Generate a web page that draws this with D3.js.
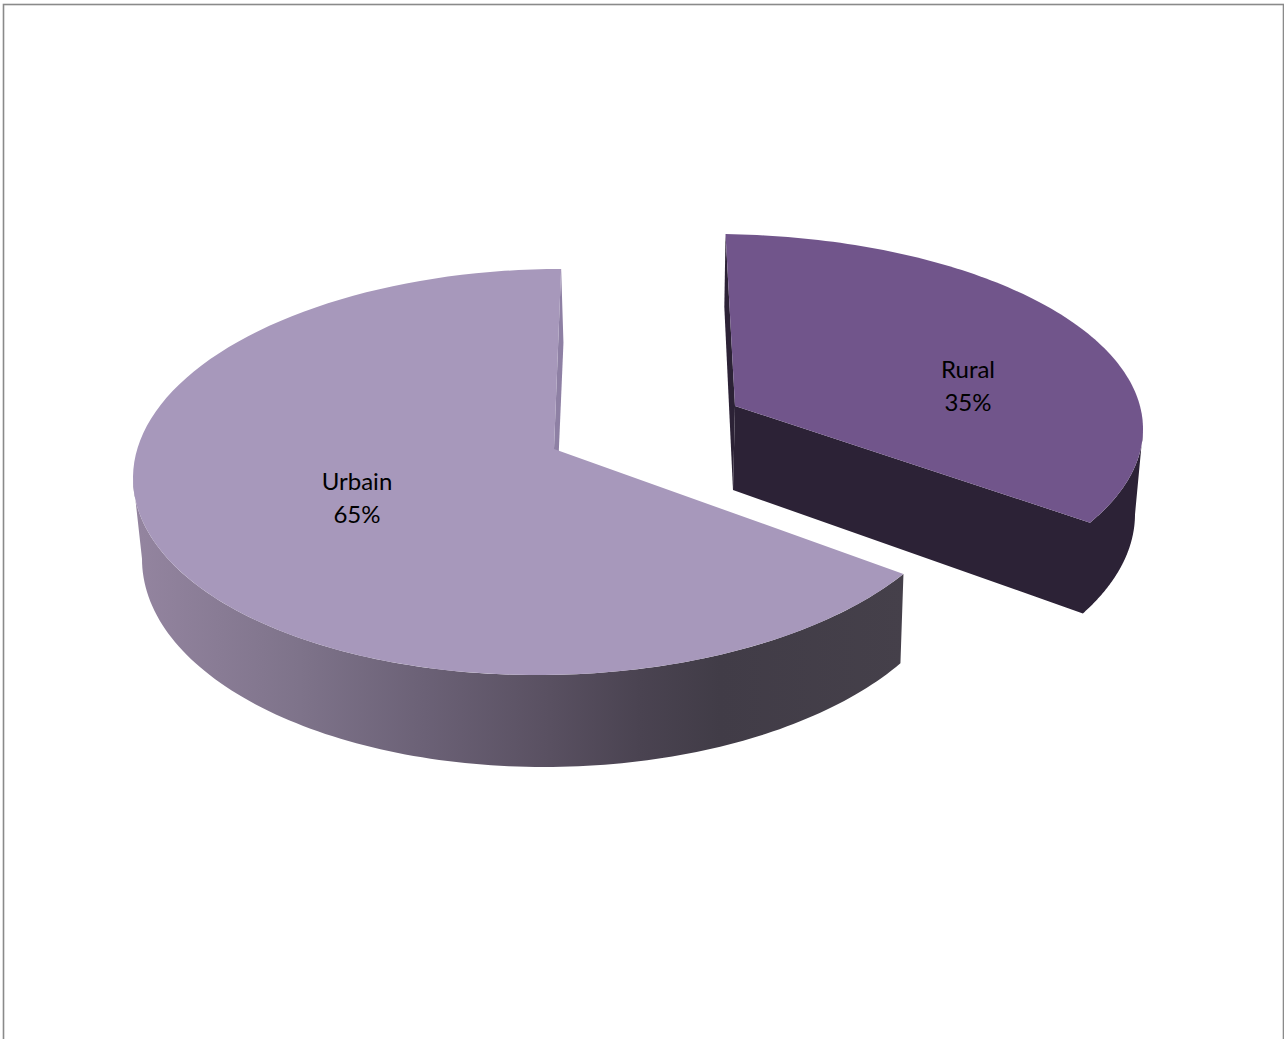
<!DOCTYPE html>
<html>
<head>
<meta charset="utf-8">
<style>
  html, body { margin: 0; padding: 0; background: #fff; overflow: hidden; }
  svg { display: block; }
  text { font-family: Lato, "Open Sans", sans-serif; font-size: 24px; fill: #000; text-anchor: middle; }
</style>
<script src="https://cdn.jsdelivr.net/npm/d3@7/dist/d3.min.js"></script>
</head>
<body>
<svg id="chart" width="1284" height="1039"></svg>
<script>
// Population split
const categories = ["Rural", "Urbain"];
const shares = [35, 65];

const width = 1284, height = 1039;
const rad = Math.PI / 180;

// Top and bottom discs of each slice (ellipses with a slight shear from the viewing
// angle), its hub points, the perspective slide of pie angles along the rim, and the
// pie angle at which the rim turns out of sight
const geometry = {
  Rural: {
    top: { cx: 712, cy: 429, rx: 431, ry: 195, shear: 0 },
    bottom: { cx: 711, cy: 514, rx: 424, ry: 207, shear: 0 },
    hubTop: [735, 406],
    hubBottom: [733, 490],
    offset: 1.8 * rad,
    slide: 5.73 * rad,
    silhouette: 94.5 * rad
  },
  Urbain: {
    top: { cx: 549.5, cy: 472, rx: 416.5, ry: 203, shear: 6 },
    bottom: { cx: 552, cy: 555, rx: 410, ry: 212, shear: 4 },
    hubTop: [554, 449],
    hubBottom: [555, 540],
    offset: 1.6 * rad,
    slide: 3.65 * rad,
    silhouette: 272 * rad
  }
};

const topColor = { Rural: "#71558b", Urbain: "#a798bb" };
const sideColor = { Rural: "#2c2236", Urbain: "url(#urbainSide)" };
const wallColor = { Rural: "#2c2236", Urbain: "#8e80a4" };

// Horizontal shading across the curved side of the large slice
const sideStops = [
  [140, "#93849f"], [300, "#7e738a"], [425, "#6b6176"], [550, "#595061"],
  [640, "#4a4351"], [720, "#413c47"], [905, "#45404a"]
];

const svg = d3.select("#chart");

const gradient = svg.append("defs").append("linearGradient")
  .attr("id", "urbainSide")
  .attr("gradientUnits", "userSpaceOnUse")
  .attr("x1", 140).attr("x2", 905).attr("y1", 0).attr("y2", 0);
const stopOffset = d3.scaleLinear().domain([140, 905]).range([0, 1]);
gradient.selectAll("stop").data(sideStops).join("stop")
  .attr("offset", d => stopOffset(d[0]))
  .attr("stop-color", d => d[1]);

// Page frame, running off the bottom edge
svg.append("rect")
  .attr("x", 3.5).attr("y", 4.5)
  .attr("width", width - 4).attr("height", height + 20)
  .attr("fill", "none").attr("stroke", "#8a8a8a").attr("stroke-width", 1.6);

const pie = d3.pie().value(d => d.value).sort(null);
const slices = pie(categories.map((name, i) => ({ name, value: shares[i] })));

const rimPoint = (g, disc, a) => {
  const t = a + g.offset - g.slide * (1 - Math.cos(a));
  return [
    disc.cx + disc.rx * Math.sin(t),
    disc.cy - disc.ry * Math.cos(t) - disc.shear * Math.sin(t)
  ];
};
const sampleAngles = (from, to) => {
  const n = 120;
  return d3.range(n + 1).map(i => from + (to - from) * i / n);
};
const line = d3.line();
const closed = pts => line(pts) + "Z";

slices.forEach(s => {
  const name = s.data.name;
  const g = geometry[name];
  const group = svg.append("g").attr("class", "slice-" + name);
  const face = (pts, fill) => group.append("path")
    .attr("d", closed(pts))
    .attr("fill", fill);

  // Flat cut faces that show through the opening between the slices
  const wallAngle = name === "Rural" ? s.startAngle : s.endAngle;
  face([rimPoint(g, g.top, wallAngle), rimPoint(g, g.bottom, wallAngle), g.hubBottom, g.hubTop], wallColor[name]);

  // Curved outer side, from the front corner round to the silhouette
  const frontCorner = name === "Rural" ? s.endAngle : s.startAngle;
  const arcAngles = sampleAngles(frontCorner, g.silhouette);
  const sidePts = arcAngles.map(a => rimPoint(g, g.top, a))
    .concat(arcAngles.slice().reverse().map(a => rimPoint(g, g.bottom, a)));
  // The small slice's front cut face joins its curved side in one outline
  const outline = name === "Rural" ? sidePts.concat([g.hubBottom, g.hubTop]) : sidePts;
  face(outline, sideColor[name]);

  // Top face
  face([g.hubTop].concat(sampleAngles(s.startAngle, s.endAngle).map(a => rimPoint(g, g.top, a))), topColor[name]);
});

// Category and percentage labels
const labelPositions = { Rural: [968, 378], Urbain: [357, 490] };
const lineGap = 33;
slices.forEach(s => {
  const [x, y] = labelPositions[s.data.name];
  const label = svg.append("text").attr("x", x).attr("y", y);
  label.append("tspan").attr("x", x).text(s.data.name);
  label.append("tspan").attr("x", x).attr("dy", lineGap).text(s.data.value + "%");
});
</script>
</body>
</html>
